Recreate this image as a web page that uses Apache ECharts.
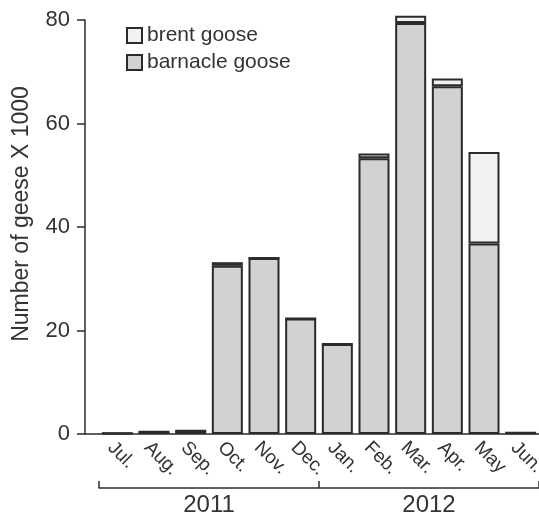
<!DOCTYPE html>
<html>
<head>
<meta charset="utf-8">
<script src="https://cdn.jsdelivr.net/npm/echarts@6/dist/echarts.min.js"></script>
<style>
html,body{margin:0;padding:0;background:#fff;}
#chart{width:539px;height:515px;}
</style>
</head>
<body>
<div id="chart"></div>
<script>
const months = ['Jul.','Aug.','Sep.','Oct.','Nov.','Dec.','Jan.','Feb.','Mar.','Apr.','May','Jun.'];
const years = ['2011','2012'];
const barnacle = [0.15, 0.45, 0.65, 32.5, 34.0, 22.3, 17.4, 53.3, 79.4, 67.2, 36.8, 0.25];
const brent    = [0, 0, 0, 0.7, 0, 0, 0, 0.9, 1.4, 1.5, 17.7, 0];
const yTicks = [0, 20, 40, 60, 80];

const FONT = 'Liberation Sans, Arial, sans-serif';
const TXT = '#333';
const EDGE = '#2b2b2b';

const chart = echarts.init(document.getElementById('chart'));
chart.setOption({
  animation: false,
  backgroundColor: '#fff',
  textStyle: { fontFamily: FONT },
  grid: [
    { left: 85, right: 0, top: 20, bottom: 81, outerBoundsMode: 'none', containLabel: false },
    { left: 99, right: 0, top: 20, bottom: 81, outerBoundsMode: 'none', containLabel: false }
  ],
  legend: {
    orient: 'vertical',
    left: 126, top: 25, padding: 0,
    itemWidth: 15, itemHeight: 15, itemGap: 6,
    data: ['brent goose', 'barnacle goose'],
    textStyle: { fontSize: 21, color: TXT, fontFamily: FONT },
    icon: 'rect'
  },
  xAxis: [
    { type: 'value', gridIndex: 0, min: 0, max: 1, show: true,
      axisLine: { show: true, lineStyle: { color: EDGE, width: 1.5 } },
      axisTick: { show: false }, axisLabel: { show: false }, splitLine: { show: false } },
    { type: 'category', gridIndex: 1, data: months,
      axisLine: { show: false }, axisTick: { show: false },
      axisLabel: { rotate: -45, fontSize: 19, color: TXT, margin: 4, interval: 0,
        verticalAlign: 'top', fontFamily: FONT } },
    { type: 'category', gridIndex: 1, data: years, position: 'bottom', offset: 54,
      axisLine: { show: true, lineStyle: { color: EDGE, width: 1.5 } },
      axisTick: { show: true, inside: true, length: 7, lineStyle: { color: EDGE, width: 1.5 } },
      axisLabel: { fontSize: 24, color: TXT, margin: 5, fontFamily: FONT } }
  ],
  yAxis: [
    { type: 'value', gridIndex: 0, min: 0, max: 80, interval: 20,
      name: 'Number of geese X 1000', nameLocation: 'middle', nameGap: 52,
      nameTextStyle: { fontSize: 23, color: TXT, fontFamily: FONT, padding: [0, 0, 0, 26] },
      axisLine: { show: true, lineStyle: { color: EDGE, width: 1.5 } },
      axisTick: { show: true, length: 8, lineStyle: { color: EDGE, width: 1.5 } },
      axisLabel: { fontSize: 22, color: TXT, margin: 15, fontFamily: FONT },
      splitLine: { show: false } },
    { type: 'value', gridIndex: 1, min: 0, max: 80, show: false, splitLine: { show: false } }
  ],
  series: [
    { name: 'barnacle goose', type: 'bar', stack: 'g', xAxisIndex: 1, yAxisIndex: 1,
      data: barnacle, barWidth: 31, clip: false,
      itemStyle: { color: '#d1d2d4', borderColor: EDGE, borderWidth: 2 } },
    { name: 'brent goose', type: 'bar', stack: 'g', xAxisIndex: 1, yAxisIndex: 1,
      data: brent, barWidth: 31, clip: false,
      itemStyle: { color: '#f1f1f1', borderColor: EDGE, borderWidth: 2 } }
  ]
});
</script>
</body>
</html>
